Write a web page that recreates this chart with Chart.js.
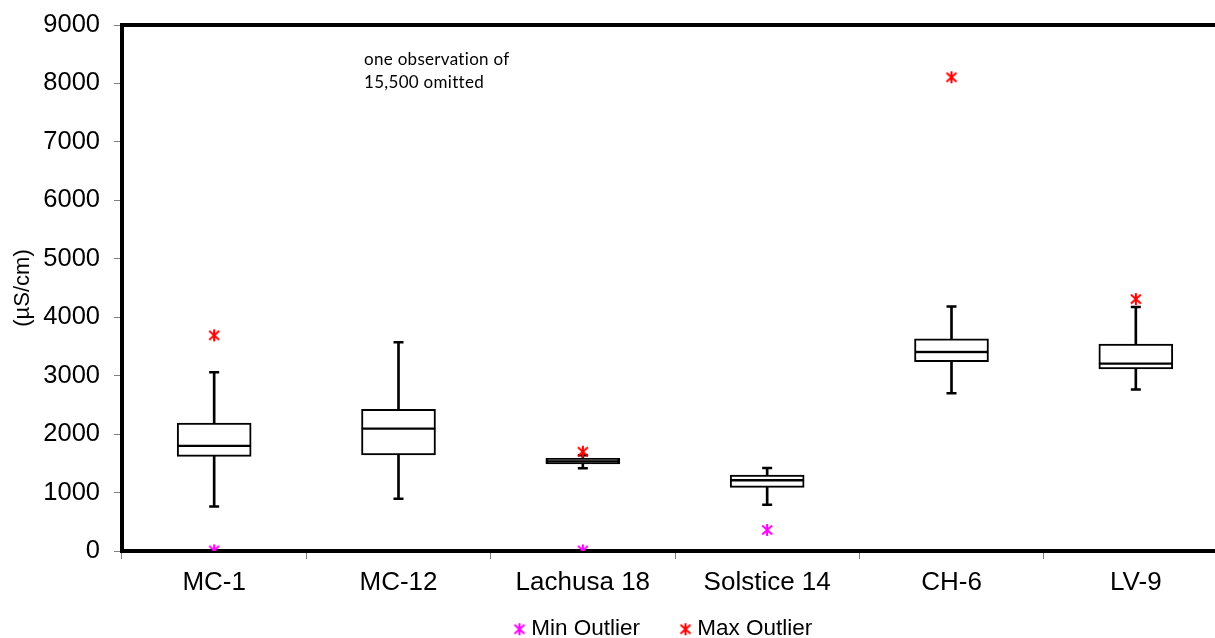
<!DOCTYPE html>
<html>
<head>
<meta charset="utf-8">
<title>Conductividad por sitio</title>
<script src="https://cdn.jsdelivr.net/npm/chart.js@4.4.1/dist/chart.umd.min.js"></script>
<style>
  html, body { margin: 0; padding: 0; background: #fff; overflow: hidden; }
  #wrap { width: 1240px; height: 638px; }
</style>
</head>
<body>
<div id="wrap"><canvas id="boxChart"></canvas></div>
<script>
// Sitios de muestreo
const sites = ['MC-1', 'MC-12', 'Lachusa 18', 'Solstice 14', 'CH-6', 'LV-9'];

// Estadisticos de cada caja (µS/cm)
const whiskerLow  = [760, 895, 1415, 790, 2700, 2765];
const q1          = [1620, 1645, 1490, 1090, 3240, 3115];
const median      = [1800, 2095, 1535, 1210, 3405, 3205];
const q3          = [2190, 2425, 1585, 1300, 3630, 3540];
const whiskerHigh = [3060, 3570, 1640, 1420, 4185, 4175];

// Valores atipicos
const minOutlier = [10, null, 10, 360, null, null];
const maxOutlier = [3690, null, 1700, null, 8105, 4310];

// Marcas del eje Y
const yTicks = [0, 1000, 2000, 3000, 4000, 5000, 6000, 7000, 8000, 9000];

const FONT = 'Liberation Sans, Arial, sans-serif';

// Asterisco de seis brazos para los atipicos
function makeStar(color) {
  const c = document.createElement('canvas');
  c.width = 14;
  c.height = 14;
  const g = c.getContext('2d');
  g.strokeStyle = color;
  g.lineWidth = 2;
  g.beginPath();
  g.moveTo(7, 1); g.lineTo(7, 13);
  g.moveTo(2, 2.5); g.lineTo(12, 11.5);
  g.moveTo(2, 11.5); g.lineTo(12, 2.5);
  g.stroke();
  return c;
}

// Pares [desde, hasta] para las barras flotantes
const pairs = (a, b) => a.map((v, i) => [v, b[i]]);

// Cajas muy estrechas se ven como una banda negra
const boxFill = ctx => (q3[ctx.dataIndex] - q1[ctx.dataIndex] < 150 ? '#000' : '#fff');

// Marco superior/derecho y la nota
const framePlugin = {
  id: 'frame',
  afterDraw(chart) {
    const { ctx, chartArea: a } = chart;
    ctx.save();
    ctx.strokeStyle = '#000';
    ctx.lineWidth = 4;
    ctx.beginPath();
    ctx.moveTo(a.left, a.top);
    ctx.lineTo(a.right, a.top);
    ctx.lineTo(a.right, a.bottom);
    ctx.stroke();
    ctx.fillStyle = '#000';
    ctx.font = '17px Lato, sans-serif';
    ctx.letterSpacing = '0.3px';
    ctx.textBaseline = 'alphabetic';
    ctx.fillText('one observation of', a.left + 242, a.top + 40);
    ctx.fillText('15,500 omitted', a.left + 242, a.top + 63);
    ctx.restore();
  }
};

const boxBase = {
  backgroundColor: boxFill,
  borderColor: '#000',
  borderSkipped: false,
  barThickness: 74,
  grouped: false
};

const whiskerBase = {
  backgroundColor: '#000',
  borderWidth: 0,
  barThickness: 2,
  grouped: false
};

const capBase = {
  type: 'line',
  showLine: false,
  pointStyle: 'line',
  pointRadius: 5,
  borderColor: '#000',
  pointBorderColor: '#000',
  borderWidth: 2.5,
  pointBorderWidth: 2.5
};

const legendNames = ['Min Outlier', 'Max Outlier'];

new Chart(document.getElementById('boxChart'), {
  type: 'bar',
  data: {
    labels: sites,
    datasets: [
      { label: 'Min Outlier', type: 'line', data: minOutlier, showLine: false, pointStyle: makeStar('#ff00ff'), pointRadius: 6, order: -1 },
      { label: 'Max Outlier', type: 'line', data: maxOutlier, showLine: false, pointStyle: makeStar('#ff0000'), pointRadius: 6, order: -1 },
      { ...capBase, label: 'cap low', data: whiskerLow },
      { ...capBase, label: 'cap high', data: whiskerHigh },
      { ...whiskerBase, label: 'whisker low', data: pairs(whiskerLow, q1) },
      { ...whiskerBase, label: 'whisker high', data: pairs(q3, whiskerHigh) },
      { ...boxBase, label: 'box low', data: pairs(q1, median), borderWidth: { top: 1.5, bottom: 2, left: 2, right: 2 } },
      { ...boxBase, label: 'box high', data: pairs(median, q3), borderWidth: { top: 2, bottom: 1.5, left: 2, right: 2 } }
    ]
  },
  options: {
    responsive: true,
    maintainAspectRatio: false,
    animation: false,
    layout: { padding: { top: 25, right: 12, left: 0, bottom: 0 } },
    plugins: {
      tooltip: { enabled: false },
      legend: {
        position: 'bottom',
        fullSize: false,
        maxHeight: 40,
        labels: {
          usePointStyle: true,
          boxWidth: 1,
          padding: 20,
          color: '#000',
          font: { family: FONT, size: 22.5 },
          generateLabels(chart) {
            const items = Chart.defaults.plugins.legend.labels.generateLabels(chart)
              .filter(item => legendNames.includes(item.text));
            // separacion entre las dos entradas
            items[0].text += '    ';
            items[1].text += '   ';
            return items;
          }
        }
      }
    },
    scales: {
      x: {
        offset: true,
        grid: { display: true, offset: true, drawOnChartArea: false, drawTicks: true, tickLength: 8, color: '#808080' },
        border: { display: true, color: '#000', width: 4 },
        ticks: { color: '#000', font: { family: FONT, size: 26 }, padding: 8, maxRotation: 0, autoSkip: false },
        afterFit(scale) { scale.height = 47; }
      },
      y: {
        min: 0,
        max: 9000,
        afterBuildTicks(axis) { axis.ticks = yTicks.map(v => ({ value: v })); },
        grid: { drawOnChartArea: false, drawTicks: true, tickLength: 8, color: '#808080' },
        border: { display: true, color: '#000', width: 4 },
        ticks: { color: '#000', font: { family: FONT, size: 25.5 }, padding: 14, callback: v => String(v) },
        title: {
          display: true,
          text: '(µS/cm)',
          color: '#000',
          font: { family: FONT, size: 22 },
          padding: { top: 10, bottom: 0 }
        },
        afterFit(scale) {
          scale.width = 122;
          // el margen superior lo fija layout.padding
          scale.paddingTop = 0;
          scale.paddingBottom = 0;
        }
      }
    }
  },
  plugins: [framePlugin]
});
</script>
</body>
</html>
